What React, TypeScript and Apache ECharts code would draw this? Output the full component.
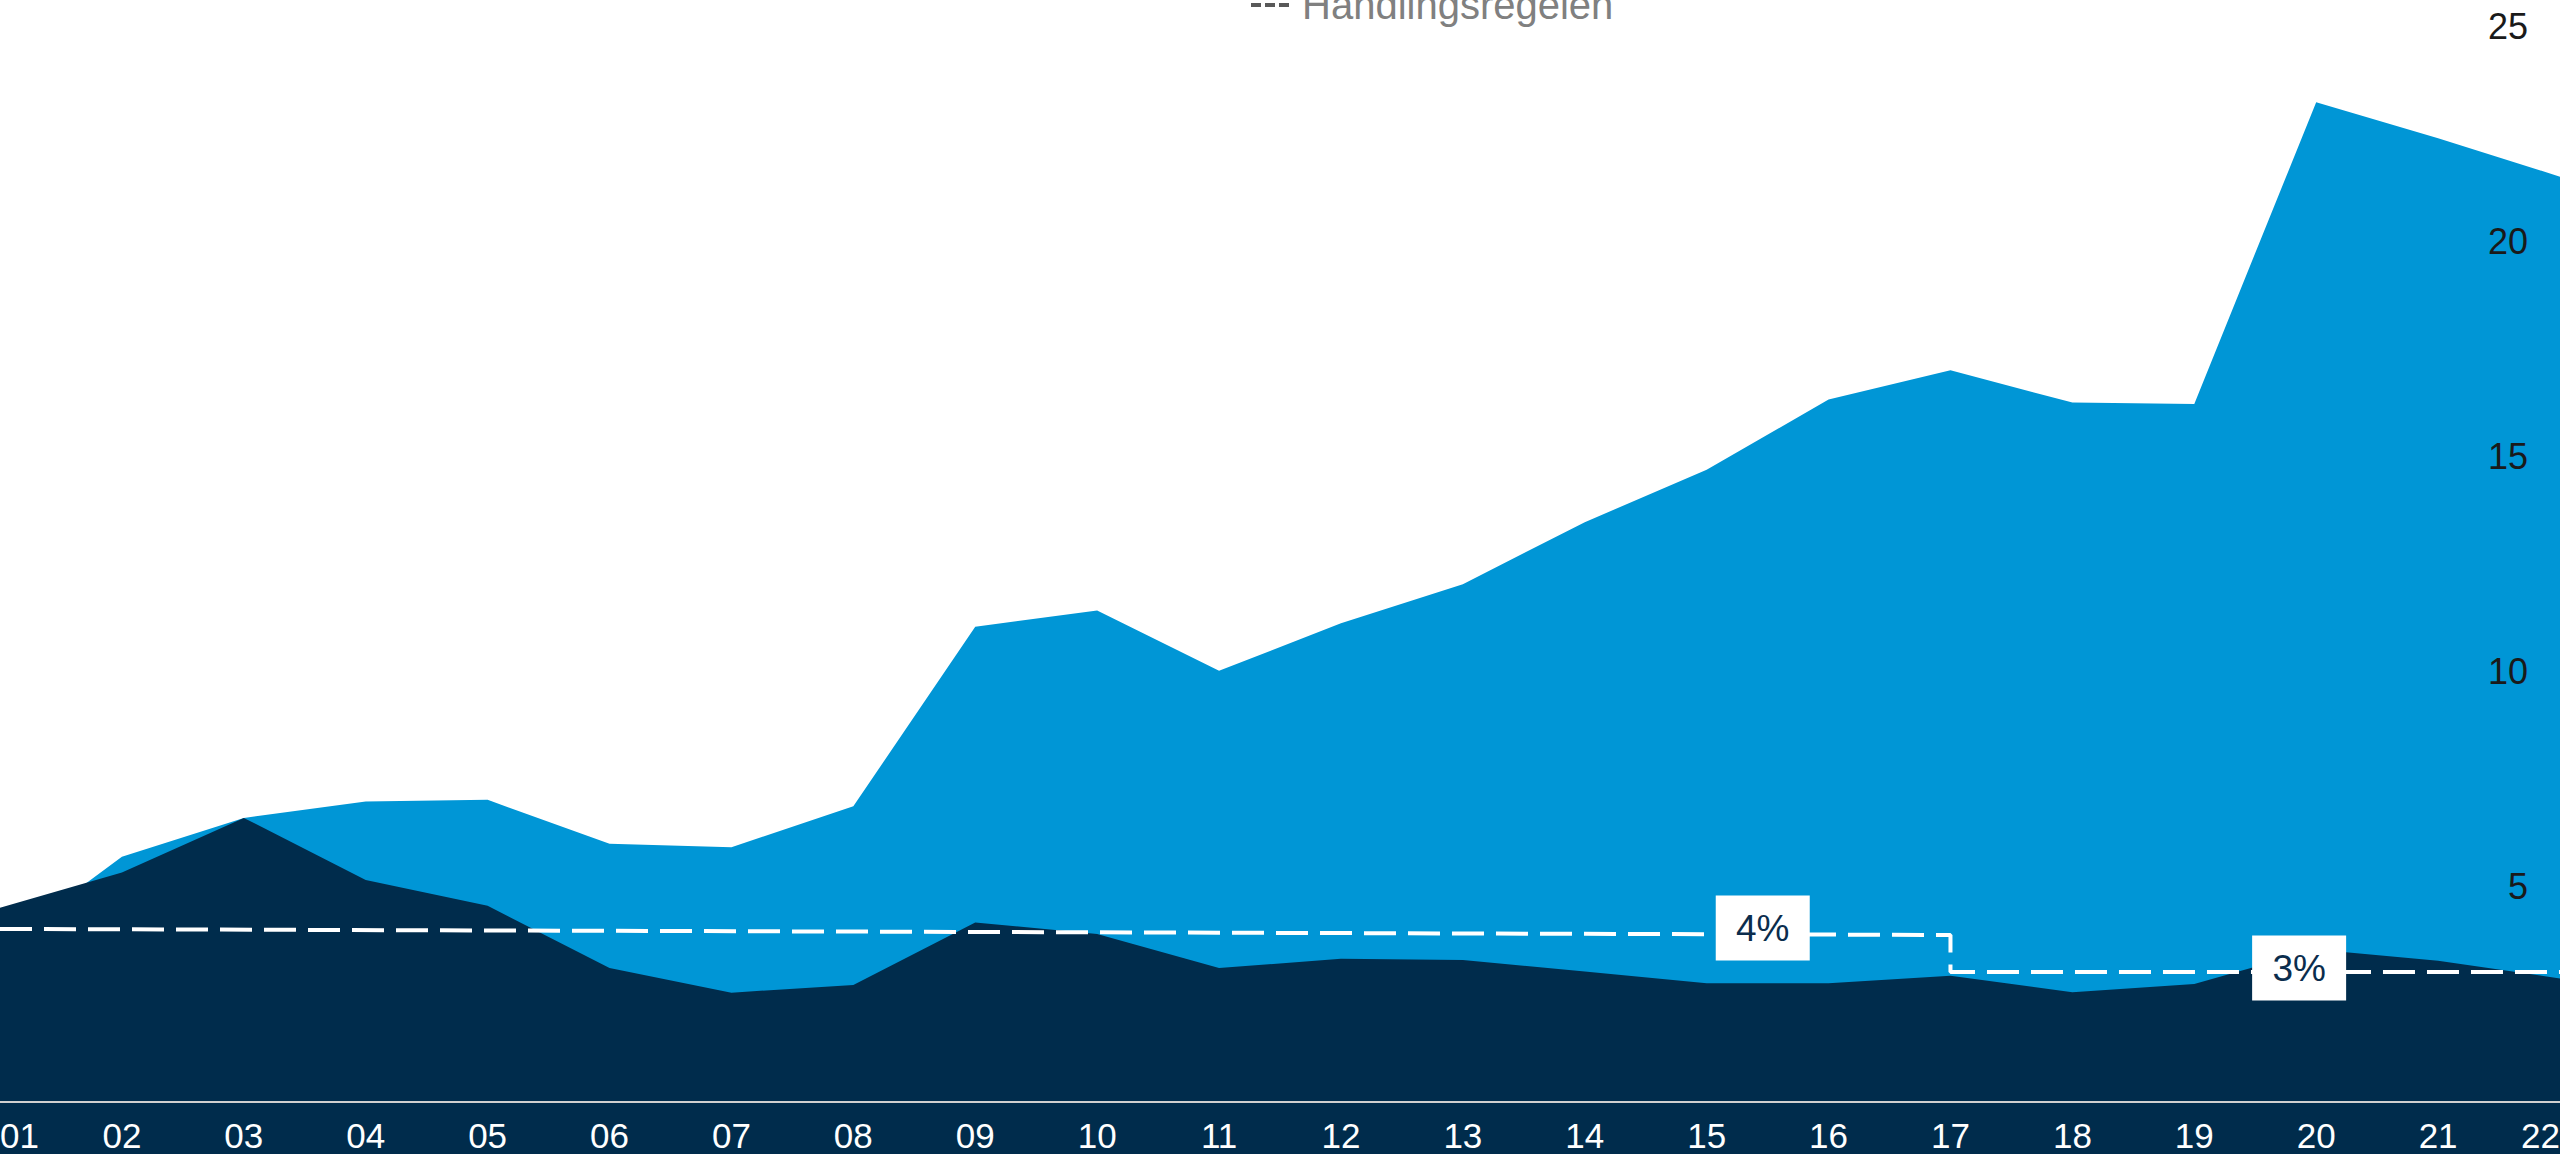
import React, { useEffect, useRef } from "react";
import * as echarts from "echarts";

const categories = ["01", "02", "03", "04", "05", "06", "07", "08", "09", "10", "11", "12", "13", "14", "15", "16", "17", "18", "19", "20", "21", "22"];
const fundValues = [3.6, 5.7, 6.6, 6.98, 7.02, 6.0, 5.92, 6.87, 11.04, 11.42, 10.02, 11.12, 12.03, 13.47, 14.69, 16.32, 17.0, 16.25, 16.22, 23.23, 22.39, 21.5];
const spendingValues = [4.51, 5.33, 6.6, 5.16, 4.56, 3.11, 2.54, 2.72, 4.17, 3.9, 3.11, 3.33, 3.3, 3.03, 2.76, 2.76, 2.93, 2.55, 2.74, 3.54, 3.28, 2.87];
const ruleX = [0, 16, 16, 21];
const ruleValues = [4.02, 3.88, 3.02, 3.02];
const ruleLabels = ["4%", "3%"];
const ruleLabelPos = [[14.46, 4.04], [18.86, 3.11]];
const ruleName = "Handlingsregelen";
const baseline = 0;

const LIGHT = "#0096d6";
const NAVY = "#002c4c";
const FONT = "'Liberation Sans', Arial, sans-serif";
const NARROW = "'Liberation Sans Narrow', 'Arial Narrow', 'Liberation Sans', sans-serif";

export default function App() {
  const ref = useRef<HTMLDivElement>(null);
  useEffect(() => {
    document.body.style.margin = "0";
    const chart = echarts.init(ref.current!, undefined, { renderer: "svg" });
    chart.setOption({
      animation: false,
      backgroundColor: "#ffffff",
      legend: {
        data: [ruleName],
        left: 1246,
        top: -24,
        itemWidth: 38,
        itemHeight: 4,
        icon: "path://M0,0h10v4h-10z M14,0h10v4h-10z M28,0h10v4h-10z",
        itemStyle: { color: "#595959" },
        textStyle: { color: "#808080", fontSize: 40, fontFamily: FONT, lineHeight: 48, padding: [0, 0, 0, 8] },
      },
      grid: { left: 0, right: 0, top: 26, bottom: 0, containLabel: false, outerBoundsMode: "none" },
      xAxis: [
        {
          type: "category",
          data: categories,
          boundaryGap: false,
          z: 5,
          axisLine: { show: false, onZero: false },
          axisTick: { show: false },
          splitLine: { show: false },
          axisLabel: {
            color: "#ffffff",
            fontSize: 35,
            fontFamily: NARROW,
            margin: -36,
            verticalAlign: "top",
            interval: 0,
            alignMinLabel: "left",
            alignMaxLabel: "right",
          },
        },
        { type: "value", min: 0, max: 21, show: false },
      ],
      yAxis: {
        type: "value",
        position: "right",
        min: -1.2093,
        max: 25,
        splitNumber: 5,
        z: 5,
        axisLine: { show: false },
        axisTick: { show: false },
        splitLine: { show: false },
        axisLabel: {
          inside: true,
          margin: 32,
          color: "#1a1a1a",
          fontSize: 36,
          fontFamily: FONT,
          formatter: (v: number) => (v > 0 ? String(v) : ""),
        },
      },
      series: [
        {
          name: "fund",
          type: "line",
          data: fundValues,
          symbol: "none",
          lineStyle: { width: 0 },
          areaStyle: { color: LIGHT, opacity: 1 },
          z: 1,
        },
        {
          name: "spending",
          type: "line",
          data: spendingValues,
          symbol: "none",
          lineStyle: { width: 0 },
          areaStyle: { color: NAVY, opacity: 1, origin: "start" },
          z: 2,
          markLine: {
            silent: true,
            symbol: ["none", "none"],
            label: { show: false },
            lineStyle: { color: "#d0d0d0", width: 2, type: "solid" },
            data: [{ yAxis: baseline }],
          },
        },
        {
          name: ruleName,
          type: "line",
          xAxisIndex: 1,
          data: ruleX.map((x, i) => [x, ruleValues[i]]),
          symbol: "none",
          lineStyle: { color: "#ffffff", width: 4, type: [32, 12] },
          z: 3,
          markPoint: {
            symbol: "rect",
            symbolSize: [94, 65],
            itemStyle: { color: "#ffffff" },
            label: { show: true, position: "inside", formatter: "{b}", color: "#0b2d4d", fontSize: 37, fontFamily: FONT },
            data: ruleLabels.map((t, i) => ({ name: t, coord: ruleLabelPos[i] })),
          },
        },
      ],
    });
    return () => chart.dispose();
  }, []);
  return <div ref={ref} style={{ position: "absolute", left: 0, top: 0, width: 2560, height: 1154 }} />;
}
